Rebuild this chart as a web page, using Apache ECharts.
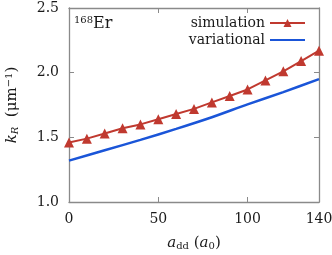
<!DOCTYPE html>
<html><head><meta charset="utf-8">
<script src="https://cdn.jsdelivr.net/npm/echarts@6/dist/echarts.min.js"></script>
<style>html,body{margin:0;padding:0;background:#fff}#c{width:332px;height:255px}</style>
</head><body><div id="c"></div>
<script>
var simX = [0,10,20,30,40,50,60,70,80,90,100,110,120,130,140];
var simY = [1.46,1.49,1.53,1.57,1.60,1.64,1.68,1.72,1.77,1.82,1.87,1.94,2.01,2.09,2.17];
var varX = [0,20,40,60,80,100,120,140];
var varY = [1.32,1.40,1.48,1.565,1.655,1.755,1.85,1.95];
var xTicks = [0,50,100,140];
var yTicks = [1.0,1.5,2.0,2.5];

var FONT = 'DejaVu Serif';
var TXT = '#1a1a1a';
var AX = '#8a8a8a';
var chart = echarts.init(document.getElementById('c'), null, {renderer:'canvas'});
function pairs(xs, ys){ return xs.map(function(x,i){return [x, ys[i]];}); }
function xAx(extra){ return Object.assign({type:'value', gridIndex:0, min:xTicks[0], max:xTicks[xTicks.length-1], interval:50,
  axisLine:{show:true,onZero:false,lineStyle:{color:AX,width:1.3}}, splitLine:{show:false},
  axisTick:{show:true,inside:true,length:5,lineStyle:{color:AX,width:1}}}, extra); }
function yAx(extra){ return Object.assign({type:'value', gridIndex:0, min:yTicks[0], max:yTicks[yTicks.length-1], interval:0.5,
  axisLine:{show:true,onZero:false,lineStyle:{color:AX,width:1.3}}, splitLine:{show:false},
  axisTick:{show:true,inside:true,length:5,lineStyle:{color:AX,width:1}}}, extra); }
chart.setOption({
  animation:false,
  textStyle:{fontFamily:FONT},
  grid:{left:69,right:13,top:8,bottom:53,containLabel:false,outerBoundsMode:'none'},
  legend:{show:true, orient:'vertical', right:26, top:16, padding:0, align:'right', itemWidth:35, itemHeight:10, itemGap:3,
    textStyle:{fontFamily:FONT,fontSize:14,color:TXT},
    data:['simulation',{name:'variational', itemStyle:{opacity:0}}]},
  xAxis:[
    xAx({position:'bottom',
      axisLabel:{fontFamily:FONT,fontSize:14,color:TXT,margin:10},
      name:'{i|a}{sub|dd} ({i|a}{sub|0})', nameLocation:'middle', nameGap:33,
      nameTextStyle:{fontFamily:FONT,fontSize:15,color:TXT,
        rich:{i:{fontFamily:FONT,fontStyle:'italic',fontSize:15,color:TXT},
              sub:{fontFamily:FONT,fontSize:10,color:TXT,padding:[6,0,0,0]}}}}),
    xAx({position:'top', axisLabel:{show:false}})
  ],
  yAxis:[
    yAx({position:'left',
      axisLabel:{fontFamily:FONT,fontSize:14,color:TXT,margin:10,formatter:function(v){return v.toFixed(1);}},
      name:'{i|k}{sub|R}  (μm{sup|−1})', nameLocation:'middle', nameGap:48, nameRotate:90,
      nameTextStyle:{fontFamily:FONT,fontSize:15,color:TXT,
        rich:{i:{fontFamily:FONT,fontStyle:'italic',fontSize:15,color:TXT},
              sub:{fontFamily:FONT,fontStyle:'italic',fontSize:10,color:TXT,padding:[6,0,0,0]},
              sup:{fontFamily:FONT,fontSize:10,color:TXT,padding:[0,0,7,0]}}}}),
    yAx({position:'right', axisLabel:{show:false}})
  ],
  graphic:[{type:'text', left:74, top:15, style:{text:'{sup|168}Er', fontFamily:FONT, fontSize:16, fill:TXT,
    rich:{sup:{fontFamily:FONT,fontSize:10,fill:TXT,padding:[0,0,8,0]}}}}],
  series:[
    {name:'simulation', type:'line', xAxisIndex:0, yAxisIndex:0, data:pairs(simX,simY), symbol:'triangle', symbolSize:10,
      lineStyle:{color:'#c0392f',width:2}, itemStyle:{color:'#c0392f'}, z:3},
    {name:'variational', type:'line', xAxisIndex:0, yAxisIndex:0, data:pairs(varX,varY), symbol:'none', smooth:0.3,
      lineStyle:{color:'#1a55d8',width:2.5}, itemStyle:{color:'#1a55d8'}, z:2},
    {name:'frame', type:'line', xAxisIndex:1, yAxisIndex:1, data:[], silent:true}
  ]
});
</script></body></html>
